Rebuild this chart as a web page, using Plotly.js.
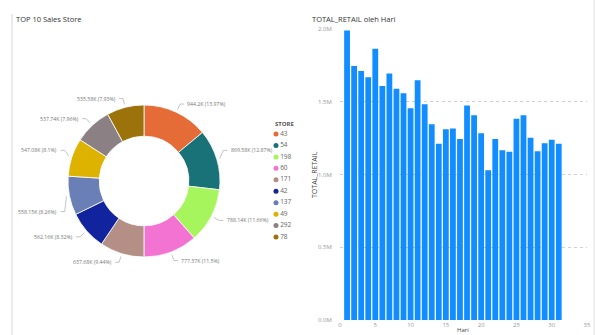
<!DOCTYPE html>
<html>
<head>
<meta charset="utf-8">
<script src="https://cdn.plot.ly/plotly-3.0.1.min.js"></script>
<style>
  html, body { margin: 0; padding: 0; background: #fff; }
  #chart { width: 595px; height: 335px; }
</style>
</head>
<body>
<div id="chart"></div>
<script>
// ---- Data ----
const stores = ['43', '54', '198', '60', '171', '42', '137', '49', '292', '78'];
const storeSalesK = [944.2, 869.58, 788.14, 777.37, 637.68, 562.16, 558.15, 547.08, 537.74, 535.58];
const storeColors = ['#E66C37', '#197278', '#A7F55C', '#F373D3', '#B38F85', '#12239E', '#6B7FB7', '#DEB300', '#8B8083', '#9C720B'];

const days = [1,2,3,4,5,6,7,8,9,10,11,12,13,14,15,16,17,18,19,20,21,22,23,24,25,26,27,28,29,30,31];
const dayRetail = [1990000, 1746000, 1711000, 1668000, 1865000, 1608000, 1695000, 1590000, 1558000, 1455000,
                   1647000, 1482000, 1345000, 1212000, 1311000, 1317000, 1244000, 1475000, 1407000, 1283000,
                   1029000, 1244000, 1166000, 1157000, 1384000, 1407000, 1253000, 1159000, 1214000, 1239000, 1212000];
const yTickVals = [0, 500000, 1000000, 1500000, 2000000];
const yTickText = ['0.0M', '0.5M', '1.0M', '1.5M', '2.0M'];
const xTickVals = [0, 5, 10, 15, 20, 25, 30, 35];

// ---- Layout constants ----
const W = 595, H = 335;
const px = x => x / W;
const py = y => 1 - y / H;
const pieCx = 144, pieCy = 181, pieR = 76;
const FONT = 'Open Sans, Noto Sans, sans-serif';

const total = storeSalesK.reduce((a, b) => a + b, 0);
const pctText = storeSalesK.map(v => parseFloat((v / total * 100).toFixed(2)) + '%');

// Donut slice labels with leader lines, derived from the values
const shapes = [];
const annotations = [];
let cum = 0;
const minCos = 0.36; // labels near the horizontal are pushed away from it
storeSalesK.forEach((v, i) => {
  const frac = v / total;
  const mid = (cum + frac / 2) * 2 * Math.PI;
  cum += frac;
  let s = Math.sin(mid), c = Math.cos(mid);
  const side = s >= 0 ? 1 : -1;
  const sx = pieCx + (pieR + 3) * s, sy = pieCy - (pieR + 3) * c;
  let lc = c;
  if (Math.abs(lc) < minCos) lc = (lc >= 0 ? 1 : -1) * minCos;
  const ls = side * Math.sqrt(1 - lc * lc);
  const ex = pieCx + (pieR + 9) * ls, ey = pieCy - (pieR + 9) * lc;
  const hx = ex + side * 4;
  shapes.push({type: 'line', xref: 'paper', yref: 'paper', x0: px(sx), y0: py(sy), x1: px(ex), y1: py(ey),
               line: {color: '#AAAAAA', width: 0.7}});
  shapes.push({type: 'line', xref: 'paper', yref: 'paper', x0: px(ex), y0: py(ey), x1: px(hx), y1: py(ey),
               line: {color: '#AAAAAA', width: 0.7}});
  annotations.push({xref: 'paper', yref: 'paper', x: px(hx + side * 1.2), y: py(ey),
                    xanchor: side > 0 ? 'left' : 'right', yanchor: 'middle', showarrow: false,
                    text: v + 'K (' + pctText[i] + ')',
                    font: {family: FONT, size: 5.2, color: '#777777'}});
});

// Panel borders
shapes.push({type: 'line', xref: 'paper', yref: 'paper', x0: px(12), x1: px(12), y0: py(14), y1: 0,
             line: {color: '#D6D6D6', width: 1}});
shapes.push({type: 'line', xref: 'paper', yref: 'paper', x0: px(594), x1: px(594), y0: 1, y1: 0,
             line: {color: '#E2E2E2', width: 1}});

// Titles
annotations.push({xref: 'paper', yref: 'paper', x: px(14), y: py(19), xanchor: 'left', yanchor: 'middle',
                  showarrow: false, text: 'TOP 10 Sales Store', font: {family: FONT, size: 7.5, color: '#333333'}});
annotations.push({xref: 'paper', yref: 'paper', x: px(310), y: py(19), xanchor: 'left', yanchor: 'middle',
                  showarrow: false, text: 'TOTAL_RETAIL oleh Hari', font: {family: FONT, size: 7.5, color: '#333333'}});
// Legend title
annotations.push({xref: 'paper', yref: 'paper', x: px(273), y: py(124), xanchor: 'left', yanchor: 'middle',
                  showarrow: false, text: '<b>STORE</b>', font: {family: FONT, size: 6, color: '#555555'}});
// Axis titles
annotations.push({xref: 'paper', yref: 'paper', x: px(315), y: py(175), xanchor: 'center', yanchor: 'middle',
                  textangle: -90, showarrow: false, text: 'TOTAL_RETAIL', font: {family: FONT, size: 7, color: '#444444'}});
annotations.push({xref: 'paper', yref: 'paper', x: px(463), y: 0, xanchor: 'center', yanchor: 'bottom',
                  borderpad: 0, showarrow: false, text: 'Hari', font: {family: FONT, size: 6, color: '#444444'}});

const traces = [
  {
    type: 'pie',
    values: storeSalesK,
    labels: stores,
    sort: false,
    direction: 'clockwise',
    rotation: 0,
    hole: 0.59,
    marker: {colors: storeColors, line: {color: '#FFFFFF', width: 0.8}},
    textinfo: 'none',
    hoverinfo: 'none',
    showlegend: false,
    domain: {x: [px(pieCx - pieR), px(pieCx + pieR)], y: [py(pieCy + pieR), py(pieCy - pieR)]}
  },
  {
    type: 'bar',
    x: days,
    y: dayRetail,
    width: 0.82,
    marker: {color: '#118DFF', line: {width: 0}},
    xaxis: 'x',
    yaxis: 'y',
    showlegend: false,
    hoverinfo: 'none'
  },
  {
    type: 'scatter',
    mode: 'markers+text',
    x: stores.map(() => 0),
    y: stores.map((s, i) => i),
    text: stores,
    textposition: 'middle right',
    textfont: {family: FONT, size: 6.5, color: '#666666'},
    marker: {color: storeColors, size: 5},
    xaxis: 'x2',
    yaxis: 'y2',
    showlegend: false,
    hoverinfo: 'none',
    cliponaxis: false
  }
];

const layout = {
  width: W, height: H,
  margin: {l: 0, r: 0, t: 0, b: 0},
  paper_bgcolor: '#FFFFFF',
  plot_bgcolor: 'rgba(0,0,0,0)',
  showlegend: false,
  xaxis: {
    domain: [px(340), px(587)],
    range: [0, 35],
    tickvals: xTickVals,
    showgrid: false, zeroline: false, showline: false,
    ticks: '', 
    tickfont: {family: FONT, size: 6, color: '#999999'},
    anchor: 'y'
  },
  yaxis: {
    domain: [py(320), py(29)],
    range: [0, 2000000],
    tickvals: yTickVals,
    ticktext: yTickText,
    showgrid: true, gridcolor: '#D0D0D0', griddash: 'dot', gridwidth: 1,
    zeroline: false, showline: false,
    ticks: 'outside', ticklen: 6, tickcolor: 'rgba(0,0,0,0)',
    tickfont: {family: FONT, size: 6, color: '#999999'},
    anchor: 'x'
  },
  xaxis2: {
    domain: [px(276), px(306)], range: [0, 1],
    visible: false, fixedrange: true, anchor: 'y2'
  },
  yaxis2: {
    domain: [py(134 + 9 * 11.45 + 5.725), py(134 - 5.725)],
    range: [9.5, -0.5],
    visible: false, fixedrange: true, anchor: 'x2'
  },
  bargap: 0.15,
  shapes: shapes,
  annotations: annotations
};

Plotly.newPlot('chart', traces, layout, {staticPlot: true, displayModeBar: false});
</script>
</body>
</html>
